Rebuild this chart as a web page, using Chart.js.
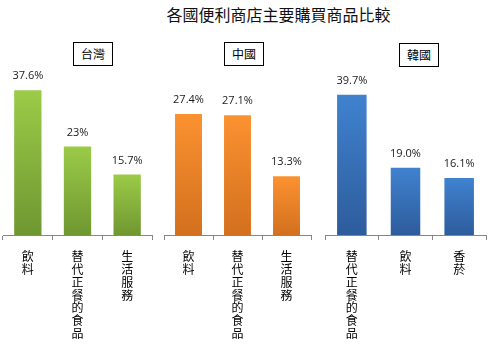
<!DOCTYPE html>
<html>
<head>
<meta charset="utf-8">
<script src="https://cdn.jsdelivr.net/npm/chart.js@4.4.0/dist/chart.umd.min.js"></script>
<style>
  body { margin: 0; background: #fff; }
  #wrap { position: relative; width: 491px; height: 353px; overflow: hidden; font-family: "Noto Sans CJK TC", sans-serif; }
  #wrap canvas { position: absolute; left: 0; top: 0; }
  .title { position: absolute; left: 0; width: 557px; top: 5px; text-align: center; font-size: 16px; line-height: 18px; color: #111; }
  .box { position: absolute; width: 38px; height: 22px; border: 1px solid #000; text-align: center; font-size: 12px; line-height: 22px; color: #000; }
</style>
</head>
<body>
<div id="wrap">
  <div class="title">各國便利商店主要購買商品比較</div>
  <div class="box" style="left:73px; top:42px;">台灣</div>
  <div class="box" style="left:224px; top:42px;">中國</div>
  <div class="box" style="left:399px; top:43px;">韓國</div>
  <canvas id="c1" width="491" height="353"></canvas>
  <canvas id="c2" width="491" height="353"></canvas>
  <canvas id="c3" width="491" height="353"></canvas>
</div>
<script>
// 台灣
const taiwanLabels = [["飲", "料"], ["替", "代", "正", "餐", "的", "食", "品"], ["生", "活", "服", "務"]];
const taiwanValues = [37.6, 23, 15.7];
const taiwanText = ["37.6%", "23%", "15.7%"];

// 中國
const chinaLabels = [["飲", "料"], ["替", "代", "正", "餐", "的", "食", "品"], ["生", "活", "服", "務"]];
const chinaValues = [27.4, 27.1, 13.3];
const chinaText = ["27.4%", "27.1%", "13.3%"];

// 韓國
const koreaLabels = [["替", "代", "正", "餐", "的", "食", "品"], ["飲", "料"], ["香", "菸"]];
const koreaValues = [39.7, 19.0, 16.1];
const koreaText = ["39.7%", "19.0%", "16.1%"];

// 畫數值標籤
const valueLabels = {
  id: "valueLabels",
  afterDatasetsDraw(chart, args, opts) {
    const ctx = chart.ctx;
    const meta = chart.getDatasetMeta(0);
    ctx.save();
    ctx.font = "11px 'Open Sans', sans-serif";
    ctx.fillStyle = "#1a1a1a";
    ctx.textAlign = "center";
    ctx.textBaseline = "middle";
    meta.data.forEach((bar, i) => {
      ctx.fillText(opts.texts[i], bar.x, bar.y - 14);
    });
    ctx.restore();
  },
};

function barGradient(top, bottom) {
  return (context) => {
    const chart = context.chart;
    const area = chart.chartArea;
    if (!area || !chart.scales.y) return top;
    const v = context.raw;
    const yTop = chart.scales.y.getPixelForValue(v);
    const g = chart.ctx.createLinearGradient(0, yTop, 0, area.bottom);
    g.addColorStop(0, top);
    g.addColorStop(1, bottom);
    return g;
  };
}

function makePanel(id, labels, values, texts, yMax, left, right, colors) {
  new Chart(document.getElementById(id), {
    type: "bar",
    data: {
      labels: labels,
      datasets: [
        {
          data: values,
          backgroundColor: barGradient(colors[0], colors[1]),
          borderWidth: 0,
          barPercentage: 0.55,
          categoryPercentage: 1,
        },
      ],
    },
    options: {
      responsive: false,
      animation: false,
      layout: { padding: { left: left, right: 491 - right, top: 76, bottom: 0 } },
      plugins: {
        legend: { display: false },
        tooltip: { enabled: false },
        valueLabels: { texts: texts },
      },
      scales: {
        y: { display: false, min: 0, max: yMax },
        x: {
          afterFit: (s) => { s.height = 118; },
          border: { display: true, color: "#868686", width: 1 },
          grid: {
            offset: true,
            drawOnChartArea: false,
            drawTicks: true,
            tickLength: 5,
            color: "#868686",
          },
          ticks: {
            autoSkip: false,
            maxRotation: 0,
            minRotation: 0,
            padding: 10,
            color: "#000",
            font: { family: "'Noto Sans CJK TC'", size: 12, lineHeight: 1.07 },
          },
        },
      },
    },
    plugins: [valueLabels],
  });
}

makePanel("c1", taiwanLabels, taiwanValues, taiwanText, 41.3, 3, 152, ["#9bcb48", "#6f9731"]);
makePanel("c2", chinaLabels, chinaValues, chinaText, 36, 164, 311, ["#fb9231", "#d3701e"]);
makePanel("c3", koreaLabels, koreaValues, koreaText, 45, 325, 486, ["#4082cf", "#2d5c9c"]);
</script>
</body>
</html>
